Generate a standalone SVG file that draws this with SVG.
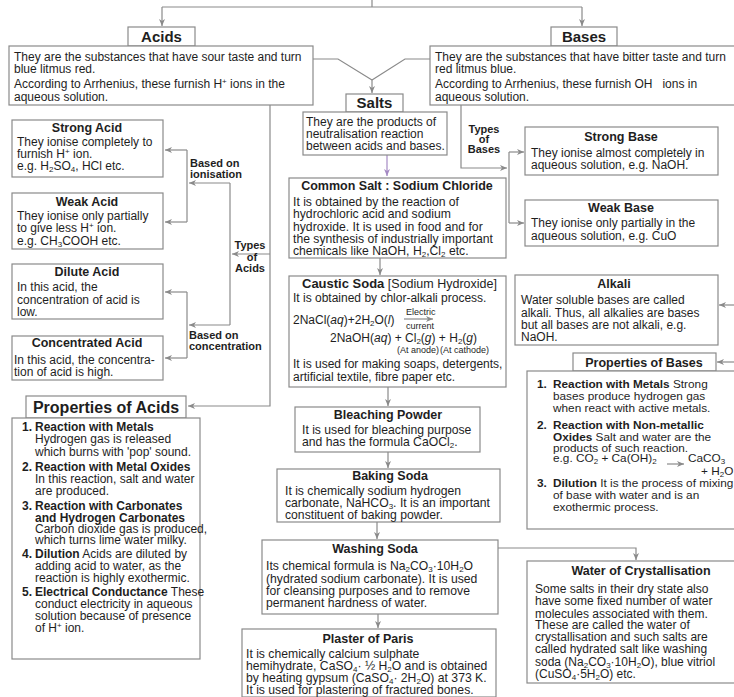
<svg xmlns="http://www.w3.org/2000/svg" width="734" height="697" viewBox="0 0 734 697">
<style>
.b{fill:#fff;stroke:#8a8a8a;stroke-width:1.2}
.c{fill:none;stroke:#8a8a8a;stroke-width:1.2}
text{font-family:"Liberation Sans",Arial,sans-serif;fill:#1e1e1e}
.t{font-size:12px}
.m{font-size:12.2px}
.h{font-weight:700;font-size:12.5px}
.H{font-weight:700;font-size:15px;text-anchor:middle}
.bd{font-weight:700}
.sb{font-size:8px;baseline-shift:-2px}
.sp{font-size:8px;baseline-shift:4px}
.lb{font-weight:700;font-size:11px}
.sm{font-size:9px}
.it{font-style:italic}
</style>
<defs>
<marker id="ar" markerWidth="8" markerHeight="8" refX="7" refY="4" orient="auto" markerUnits="userSpaceOnUse"><path d="M0,1 L7,4 L0,7 L2,4 z" fill="#8a8a8a"/></marker>
<marker id="ap" markerWidth="8" markerHeight="8" refX="7" refY="4" orient="auto" markerUnits="userSpaceOnUse"><path d="M0,1 L7,4 L0,7 L2,4 z" fill="#a58ac4"/></marker>
</defs>
<rect width="734" height="697" fill="#fff"/>

<g id="connectors">
<path class="c" d="M372,0 V7 M162,7 H582"/>
<path class="c" d="M162,7 V26" marker-end="url(#ar)"/>
<path class="c" d="M582,7 V26" marker-end="url(#ar)"/>
<path class="c" d="M313,59 H338 L372,80 M430,59 H405 L372,80"/>
<path class="c" d="M372,80 V93" marker-end="url(#ar)"/>
<path d="M387,155 V176" fill="none" stroke="#a58ac4" stroke-width="1.2" marker-end="url(#ap)"/>
<path class="c" d="M380,258 V275" marker-end="url(#ar)"/>
<path class="c" d="M388,387 V406" marker-end="url(#ar)"/>
<path class="c" d="M388,452 V468" marker-end="url(#ar)"/>
<path class="c" d="M377,522 V539" marker-end="url(#ar)"/>
<path class="c" d="M378,614 V628" marker-end="url(#ar)"/>
<path class="c" d="M498,548 H636 V560" marker-end="url(#ar)"/>
<path class="c" d="M270,105 V406 H188" marker-end="url(#ar)"/>
<path class="c" d="M270,254 H232" marker-end="url(#ar)"/>
<path class="c" d="M230,183 V325"/>
<path class="c" d="M230,183 H189" marker-end="url(#ar)"/>
<path class="c" d="M230,325 H189" marker-end="url(#ar)"/>
<path class="c" d="M187,150 V222"/>
<path class="c" d="M187,150 H165" marker-end="url(#ar)"/>
<path class="c" d="M187,222 H165" marker-end="url(#ar)"/>
<path class="c" d="M187,292 V358"/>
<path class="c" d="M187,292 H165" marker-end="url(#ar)"/>
<path class="c" d="M187,358 H165" marker-end="url(#ar)"/>
<path class="c" d="M461,105 V168 H507" marker-end="url(#ar)"/>
<path class="c" d="M509,152 V223"/>
<path class="c" d="M509,152 H524" marker-end="url(#ar)"/>
<path class="c" d="M509,223 H524" marker-end="url(#ar)"/>
<path class="c" d="M736,305 H719" marker-end="url(#ar)"/>
<path class="c" d="M736,362 H717" marker-end="url(#ar)"/>
<text class="lb" x="190" y="167">Based on<tspan x="190" y="178">ionisation</tspan></text>
<text class="lb" text-anchor="middle" x="250" y="249">Types<tspan x="252" y="261">of</tspan><tspan x="250" y="272">Acids</tspan></text>
<text class="lb" x="189" y="339">Based on<tspan x="189" y="350">concentration</tspan></text>
<text class="lb" text-anchor="middle" x="484" y="133">Types<tspan x="484" y="143">of</tspan><tspan x="484" y="153">Bases</tspan></text>
</g>

<g id="acids">
<rect class="b" x="128" y="27" width="67" height="19"/>
<text class="H" x="161.5" y="42">Acids</text>
<rect class="b" x="9" y="46" width="304" height="59"/>
<text class="t" x="14" y="61">They are the substances that have sour taste and turn<tspan x="14" y="73">blue litmus red.</tspan><tspan x="14" y="88">According to Arrhenius, these furnish H<tspan class="sp">+</tspan> ions in the</tspan><tspan x="14" y="101">aqueous solution.</tspan></text>
</g>

<g id="bases">
<rect class="b" x="551" y="27" width="66" height="19"/>
<text class="H" x="584" y="42">Bases</text>
<rect class="b" x="430" y="46" width="306" height="59"/>
<text class="t" x="435" y="61">They are the substances that have bitter taste and turn<tspan x="435" y="73">red litmus blue.</tspan><tspan x="435" y="88">According to Arrhenius, these furnish OH</tspan><tspan dx="10">ions in</tspan><tspan x="435" y="101">aqueous solution.</tspan></text>
</g>

<g id="salts">
<rect class="b" x="346" y="94" width="57" height="18"/>
<text class="H" x="374.5" y="108">Salts</text>
<rect class="b" x="303" y="112" width="144" height="43"/>
<text class="t" x="306" y="126">They are the products of<tspan x="306" y="138">neutralisation reaction</tspan><tspan x="306" y="150">between acids and bases.</tspan></text>
</g>

<g id="strong-acid">
<rect class="b" x="12" y="120" width="151" height="57"/>
<text class="t"><tspan class="h" text-anchor="middle" x="87" y="132">Strong Acid</tspan><tspan x="17" y="146">They ionise completely to</tspan><tspan x="17" y="158">furnish H<tspan class="sp">+</tspan> ion.</tspan><tspan x="17" y="170">e.g. H<tspan class="sb">2</tspan>SO<tspan class="sb">4</tspan>, HCl etc.</tspan></text>
</g>

<g id="weak-acid">
<rect class="b" x="12" y="193" width="151" height="56"/>
<text class="t"><tspan class="h" text-anchor="middle" x="87" y="206">Weak Acid</tspan><tspan x="17" y="220">They ionise only partially</tspan><tspan x="17" y="232">to give less H<tspan class="sp">+</tspan> ion.</tspan><tspan x="17" y="245">e.g. CH<tspan class="sb">3</tspan>COOH etc.</tspan></text>
</g>

<g id="dilute-acid">
<rect class="b" x="12" y="264" width="151" height="55"/>
<text class="t"><tspan class="h" text-anchor="middle" x="87" y="276">Dilute Acid</tspan><tspan x="17" y="291">In this acid, the</tspan><tspan x="17" y="304">concentration of acid is</tspan><tspan x="17" y="316">low.</tspan></text>
</g>

<g id="concentrated-acid">
<rect class="b" x="12" y="336" width="151" height="44"/>
<text class="t"><tspan class="h" text-anchor="middle" x="87" y="347">Concentrated Acid</tspan><tspan x="14" y="364">In this acid, the concentra-</tspan><tspan x="14" y="376">tion of acid is high.</tspan></text>
</g>

<g id="properties-acids">
<rect class="b" x="26" y="396" width="160" height="22"/>
<text class="bd" x="106" y="413" font-size="16" text-anchor="middle">Properties of Acids</text>
<rect class="b" x="12" y="418" width="188" height="241"/>
<text class="t"><tspan class="bd" x="22" y="431">1.</tspan><tspan class="bd" x="35" y="431">Reaction with Metals</tspan><tspan x="35" y="443">Hydrogen gas is released</tspan><tspan x="35" y="456">which burns with 'pop' sound.</tspan><tspan class="bd" x="22" y="471">2.</tspan><tspan class="bd" x="35" y="471">Reaction with Metal Oxides</tspan><tspan x="35" y="483">In this reaction, salt and water</tspan><tspan x="35" y="495">are produced.</tspan><tspan class="bd" x="22" y="510">3.</tspan><tspan class="bd" x="35" y="510">Reaction with Carbonates</tspan><tspan class="bd" x="35" y="522">and Hydrogen Carbonates</tspan><tspan x="35" y="533">Carbon dioxide gas is produced,</tspan><tspan x="35" y="544">which turns lime water milky.</tspan><tspan class="bd" x="22" y="558">4.</tspan><tspan class="bd" x="35" y="558">Dilution</tspan><tspan> Acids are diluted by</tspan><tspan x="35" y="570">adding acid to water, as the</tspan><tspan x="35" y="582">reaction is highly exothermic.</tspan><tspan class="bd" x="22" y="596">5.</tspan><tspan class="bd" x="35" y="596">Electrical Conductance</tspan><tspan> These</tspan><tspan x="35" y="608">conduct electricity in aqueous</tspan><tspan x="35" y="620">solution because of presence</tspan><tspan x="35" y="632">of H<tspan class="sp">+</tspan> ion.</tspan></text>
</g>

<g id="common-salt">
<rect class="b" x="289" y="178" width="217" height="80"/>
<text class="m"><tspan class="h" font-size="13" text-anchor="middle" x="397" y="190">Common Salt : Sodium Chloride</tspan><tspan x="293" y="206">It is obtained by the reaction of</tspan><tspan x="293" y="218">hydrochloric acid and sodium</tspan><tspan x="293" y="231">hydroxide. It is used in food and for</tspan><tspan x="293" y="243">the synthesis of industrially important</tspan><tspan x="293" y="255">chemicals like NaOH, H<tspan class="sb">2</tspan>,Cl<tspan class="sb">2</tspan> etc.</tspan></text>
</g>

<g id="caustic-soda">
<rect class="b" x="289" y="276" width="217" height="111"/>
<text class="t"><tspan class="bd" font-size="13" x="302" y="288">Caustic Soda</tspan><tspan font-size="12.5"> [Sodium Hydroxide]</tspan><tspan x="293" y="302">It is obtained by chlor-alkali process.</tspan><tspan x="293" y="324">2NaCl(<tspan class="it">aq</tspan>)+2H<tspan class="sb">2</tspan>O(<tspan class="it">l</tspan>)</tspan><tspan class="sm" x="406" y="315">Electric</tspan><tspan class="sm" x="406" y="329">current</tspan><tspan x="330" y="342">2NaOH(<tspan class="it">aq</tspan>) + Cl<tspan class="sb">2</tspan>(<tspan class="it">g</tspan>)  + H<tspan class="sb">2</tspan>(<tspan class="it">g</tspan>)</tspan><tspan class="sm" x="397" y="353">(At anode)</tspan><tspan class="sm" x="440" y="353">(At cathode)</tspan><tspan x="293" y="368">It is used for making soaps, detergents,</tspan><tspan x="293" y="381">artificial textile, fibre paper etc.</tspan></text>
<path class="c" d="M404,319 H433" marker-end="url(#ar)"/>
</g>

<g id="bleaching-powder">
<rect class="b" x="295" y="407" width="185" height="45"/>
<text class="m"><tspan class="h" font-size="13" text-anchor="middle" x="388" y="419">Bleaching Powder</tspan><tspan x="302" y="434">It is used for bleaching purpose</tspan><tspan x="302" y="446">and has the formula CaOCl<tspan class="sb">2</tspan>.</tspan></text>
</g>

<g id="baking-soda">
<rect class="b" x="277" y="469" width="223" height="53"/>
<text class="m"><tspan class="h" font-size="13" text-anchor="middle" x="390" y="480">Baking Soda</tspan><tspan x="285" y="495">It is chemically sodium hydrogen</tspan><tspan x="285" y="507">carbonate, NaHCO<tspan class="sb">3</tspan>. It is an important</tspan><tspan x="285" y="519">constituent of baking powder.</tspan></text>
</g>

<g id="washing-soda">
<rect class="b" x="262" y="540" width="236" height="74"/>
<text class="m"><tspan class="h" font-size="13" text-anchor="middle" x="375" y="553">Washing Soda</tspan><tspan x="266" y="570">Its chemical formula is Na<tspan class="sb">2</tspan>CO<tspan class="sb">3</tspan>·10H<tspan class="sb">2</tspan>O</tspan><tspan x="266" y="583">(hydrated sodium carbonate). It is used</tspan><tspan x="266" y="595">for cleansing purposes and to remove</tspan><tspan x="266" y="607">permanent hardness of water.</tspan></text>
</g>

<g id="plaster-of-paris">
<rect class="b" x="242" y="629" width="254" height="68"/>
<text class="m"><tspan class="h" font-size="13" text-anchor="middle" x="368" y="643">Plaster of Paris</tspan><tspan x="246" y="658">It is chemically calcium sulphate</tspan><tspan x="246" y="670">hemihydrate, CaSO<tspan class="sb">4</tspan>· ½ H<tspan class="sb">2</tspan>O and is obtained</tspan><tspan x="246" y="682">by heating gypsum (CaSO<tspan class="sb">4</tspan>· 2H<tspan class="sb">2</tspan>O) at 373 K.</tspan><tspan x="246" y="694">It is used for plastering of fractured bones.</tspan></text>
</g>

<g id="strong-base">
<rect class="b" x="525" y="127" width="193" height="48"/>
<text class="t"><tspan class="h" text-anchor="middle" x="621" y="141">Strong Base</tspan><tspan x="531" y="157">They ionise almost completely in</tspan><tspan x="531" y="169">aqueous solution, e.g. NaOH.</tspan></text>
</g>

<g id="weak-base">
<rect class="b" x="525" y="200" width="193" height="46"/>
<text class="t"><tspan class="h" text-anchor="middle" x="621" y="212">Weak Base</tspan><tspan x="531" y="227">They ionise only partially in the</tspan><tspan x="531" y="240">aqueous solution, e.g. CuO</tspan></text>
</g>

<g id="alkali">
<rect class="b" x="515" y="275" width="203" height="70"/>
<text class="t"><tspan class="h" text-anchor="middle" x="614" y="288">Alkali</tspan><tspan x="521" y="304">Water soluble bases are called</tspan><tspan x="521" y="317">alkali. Thus, all alkalies are bases</tspan><tspan x="521" y="329">but all bases are not alkali, e.g.</tspan><tspan x="521" y="341">NaOH.</tspan></text>
</g>

<g id="properties-bases">
<rect class="b" x="573" y="353" width="143" height="18"/>
<text class="h" x="644" y="367" font-size="13" text-anchor="middle">Properties of Bases</text>
<rect class="b" x="527" y="371" width="210" height="158"/>
<text font-size="11.8"><tspan class="bd" x="537" y="388">1.</tspan><tspan class="bd" x="553" y="388">Reaction with Metals</tspan><tspan> Strong</tspan><tspan x="553" y="400">bases produce hydrogen gas</tspan><tspan x="553" y="412">when react with active metals.</tspan><tspan class="bd" x="537" y="429">2.</tspan><tspan class="bd" x="553" y="429">Reaction with Non-metallic</tspan><tspan class="bd" x="553" y="441">Oxides</tspan><tspan> Salt and water are the</tspan><tspan x="553" y="452">products of such reaction.</tspan><tspan x="553" y="462">e.g. CO<tspan class="sb">2</tspan> + Ca(OH)<tspan class="sb">2</tspan></tspan><tspan x="688" y="462">CaCO<tspan class="sb">3</tspan></tspan><tspan x="701" y="475">+ H<tspan class="sb">2</tspan>O</tspan><tspan class="bd" x="537" y="487">3.</tspan><tspan class="bd" x="553" y="487">Dilution</tspan><tspan> It is the process of mixing</tspan><tspan x="553" y="499">of base with water and is an</tspan><tspan x="553" y="511">exothermic process.</tspan></text>
<path class="c" d="M667,464 H684" marker-end="url(#ar)"/>
</g>

<g id="water-of-crystallisation">
<rect class="b" x="527" y="561" width="210" height="122"/>
<text class="t"><tspan class="h" font-size="13" text-anchor="middle" x="641" y="575">Water of Crystallisation</tspan><tspan x="535" y="593">Some salts in their dry state also</tspan><tspan x="535" y="605">have some fixed number of  water</tspan><tspan x="535" y="618">molecules associated with them.</tspan><tspan x="535" y="629">These are called the water of</tspan><tspan x="535" y="641">crystallisation and such salts are</tspan><tspan x="535" y="653">called hydrated salt like washing</tspan><tspan x="535" y="666">soda (Na<tspan class="sb">2</tspan>CO<tspan class="sb">3</tspan>·10H<tspan class="sb">2</tspan>O), blue vitriol</tspan><tspan x="535" y="678">(CuSO<tspan class="sb">4</tspan>·5H<tspan class="sb">2</tspan>O) etc.</tspan></text>
</g>
</svg>
